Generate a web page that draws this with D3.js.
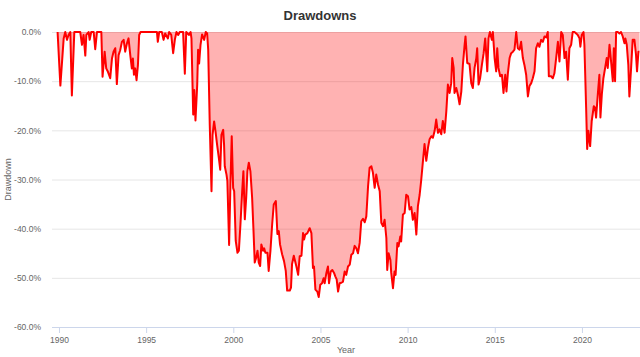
<!DOCTYPE html>
<html>
<head>
<meta charset="utf-8">
<script src="https://cdn.jsdelivr.net/npm/d3@7"></script>
<style>
  html, body { margin: 0; padding: 0; background: #fff; }
  svg { display: block; font-family: "Liberation Sans", Arial, sans-serif; }
</style>
</head>
<body>
<svg id="chart" width="640" height="357"></svg>
<script>
// ---- data (decimal year, drawdown in %) ----
const years = [
  1989.92,1990.08,1990.27,1990.36,1990.46,1990.55,1990.65,1990.74,1990.88,1991.22,
  1991.32,1991.41,1991.51,1991.57,1991.70,1991.76,1991.85,1991.99,1992.08,1992.18,
  1992.43,1992.50,1992.62,1992.71,1992.81,1992.94,1993.04,1993.13,1993.23,1993.32,
  1993.42,1993.51,1993.61,1993.71,1993.80,1993.90,1993.99,1994.09,1994.18,1994.24,
  1994.30,1994.37,1994.45,1994.53,1994.60,1994.68,1995.62,1995.67,1995.75,1995.90,
  1996.00,1996.09,1996.25,1996.32,1996.44,1996.55,1996.65,1996.74,1996.84,1996.93,
  1997.12,1997.22,1997.30,1997.45,1997.55,1997.60,1997.70,1997.76,1997.83,1997.93,
  1997.98,1998.04,1998.12,1998.21,1998.33,1998.42,1998.50,1998.56,1998.65,1998.75,
  1998.81,1998.90,1998.98,1999.07,1999.17,1999.25,1999.32,1999.42,1999.47,1999.51,
  1999.61,1999.66,1999.76,1999.84,1999.91,1999.99,2000.05,2000.14,2000.24,2000.32,
  2000.41,2000.51,2000.58,2000.66,2000.74,2000.81,2000.89,2000.98,2001.08,2001.16,
  2001.23,2001.31,2001.39,2001.46,2001.54,2001.61,2001.71,2001.77,2001.84,2001.96,
  2002.03,2002.13,2002.23,2002.32,2002.44,2002.53,2002.61,2002.68,2002.80,2002.91,
  2003.01,2003.09,2003.24,2003.31,2003.37,2003.47,2003.62,2003.72,2003.81,2003.91,
  2004.00,2004.06,2004.13,2004.25,2004.38,2004.48,2004.57,2004.63,2004.71,2004.82,
  2004.90,2004.99,2005.09,2005.18,2005.24,2005.34,2005.43,2005.49,2005.59,2005.68,
  2005.78,2005.85,2005.93,2006.01,2006.10,2006.20,2006.29,2006.39,2006.48,2006.58,
  2006.68,2006.77,2006.87,2006.96,2007.06,2007.15,2007.25,2007.34,2007.44,2007.54,
  2007.63,2007.73,2007.82,2007.92,2008.01,2008.11,2008.20,2008.30,2008.40,2008.49,
  2008.59,2008.68,2008.78,2008.83,2008.91,2009.01,2009.06,2009.16,2009.25,2009.31,
  2009.41,2009.48,2009.58,2009.63,2009.73,2009.83,2009.92,2010.02,2010.11,2010.21,
  2010.30,2010.40,2010.50,2010.59,2010.69,2010.78,2010.88,2010.97,2011.07,2011.17,
  2011.26,2011.36,2011.45,2011.55,2011.64,2011.74,2011.83,2011.93,2012.02,2012.12,
  2012.22,2012.31,2012.41,2012.50,2012.56,2012.64,2012.69,2012.79,2012.88,2012.98,
  2013.08,2013.17,2013.27,2013.32,2013.42,2013.55,2013.65,2013.74,2013.84,2013.94,
  2013.99,2014.07,2014.16,2014.26,2014.36,2014.45,2014.51,2014.57,2014.64,2014.72,
  2014.83,2014.89,2014.99,2015.08,2015.14,2015.21,2015.31,2015.41,2015.50,2015.60,
  2015.67,2015.75,2015.85,2015.94,2016.04,2016.13,2016.23,2016.32,2016.42,2016.51,
  2016.61,2016.70,2016.80,2016.90,2016.99,2017.09,2017.18,2017.28,2017.37,2017.47,
  2017.56,2017.66,2017.76,2017.85,2017.95,2018.04,2018.10,2018.23,2018.33,2018.42,
  2018.52,2018.62,2018.71,2018.81,2018.90,2019.00,2019.09,2019.19,2019.28,2019.38,
  2019.47,2019.57,2019.67,2019.76,2019.86,2019.91,2019.99,2020.09,2020.14,2020.24,
  2020.30,2020.37,2020.47,2020.56,2020.68,2020.75,2020.81,2020.91,2021.00,2021.06,
  2021.14,2021.23,2021.33,2021.42,2021.48,2021.58,2021.67,2021.77,2021.83,2021.90,
  2021.96,2022.05,2022.15,2022.24,2022.34,2022.44,2022.49,2022.57,2022.66,2022.72,
  2022.82,2022.91,2023.01,2023.10,2023.16,2023.24,2023.30
];
const drawdown = [
  0,-10.9,-1.3,0,-1.6,-0.6,0,-12.9,0,0,
  -2.6,-0.6,-4.8,-0.6,0,-1.6,0,0,-3.5,0,
  0,-9.1,-4.0,-7.4,-8.1,-9.4,-5.4,-4.0,-3.3,-10.6,
  -4.7,-3.7,-2.0,-1.6,-4.0,-2.3,-1.3,-4.7,-7.4,-5.4,
  -8.7,-7.4,-9.8,-6.7,-0.6,0,0,-2.0,0,0,
  -1.6,-0.3,-1.3,0,-0.6,-4.3,-1.5,0,-0.6,0,
  0,-8.5,0,-0.6,0,-1.3,-16.8,-11.8,-18.0,-10.7,
  -3.6,-6.4,-2.6,-0.5,-1.6,0,-0.3,-3.6,-18.9,-32.4,
  -20.9,-18.2,-20.2,-22.9,-25.6,-28.0,-20.9,-19.9,-22.9,-27.3,
  -29.0,-30.3,-43.3,-30.3,-21.2,-31.7,-32.4,-42.5,-44.9,-44.5,
  -39.1,-32.4,-28.3,-38.1,-33.7,-28.3,-26.6,-28.3,-33.7,-40.5,
  -46.9,-45.9,-44.5,-46.9,-47.6,-43.2,-44.5,-44.0,-44.9,-44.9,
  -48.6,-44.5,-39.1,-35.1,-34.4,-41.1,-40.5,-43.2,-45.2,-46.6,
  -48.6,-52.6,-52.6,-52.0,-47.2,-45.5,-47.7,-49.4,-45.6,-45.5,
  -40.9,-42.2,-41.2,-40.9,-39.9,-40.9,-48.0,-47.7,-52.4,-52.8,
  -53.9,-51.4,-51.1,-50.1,-51.1,-49.0,-47.7,-51.1,-48.7,-48.4,
  -49.0,-49.7,-50.3,-52.8,-51.1,-51.0,-50.8,-48.7,-49.4,-47.7,
  -47.3,-45.3,-45.0,-43.5,-44.0,-45.0,-42.9,-38.5,-38.0,-38.7,
  -37.5,-31.4,-27.6,-27.3,-28.6,-31.7,-29.0,-31.0,-32.4,-38.8,
  -39.5,-38.2,-41.9,-48.4,-45.0,-46.3,-49.0,-52.1,-48.7,-49.4,
  -42.9,-43.6,-41.6,-42.6,-37.1,-36.8,-33.1,-33.4,-36.1,-35.6,
  -38.2,-36.8,-41.2,-35.4,-33.1,-30.1,-26.2,-22.8,-26.2,-23.5,
  -21.8,-21.2,-21.5,-20.1,-17.8,-20.5,-19.8,-20.8,-18.1,-20.5,
  -16.1,-10.7,-12.4,-10.4,-5.3,-7.3,-12.4,-11.4,-12.7,-14.7,
  -12.1,-6.7,-2.6,-0.9,-6.3,-6.5,-10.4,-11.4,-7.3,-5.3,
  -3.3,-10.7,-9.4,-6.7,-4.3,-1.3,-4.6,-8.0,-1.3,0,
  -1.6,0,-5.3,-8.0,-3.3,-7.3,-9.0,-8.7,-12.4,-8.7,
  -12.1,-8.4,-5.3,-4.3,-4.0,-3.6,0,-3.3,-3.6,-2.0,
  -5.3,-6.7,-8.7,-13.1,-11.0,-10.4,-9.4,-8.0,-3.3,-2.3,
  -3.0,-1.6,-2.0,-0.9,-1.1,0,-9.0,-9.0,-9.4,-8.4,
  -5.3,-2.0,-6.0,0,-0.6,-5.3,-4.0,-9.7,-3.3,-2.6,
  0,0,-0.3,-0.6,-1.3,-3.0,-0.6,0,-2.6,-15.4,
  -23.8,-20.1,-23.2,-18.1,-15.1,-15.4,-17.4,-12.7,-8.7,-17.4,
  -12.7,-9.4,-7.3,-5.3,-7.3,-2.6,-6.0,-10.0,-3.3,-10.0,
  0,0,-0.3,0,-0.9,-2.3,-1.3,-2.6,-6.7,-13.1,
  -7.3,-1.6,-1.6,-4.6,-8.0,-4.0,-4.0
];
const yTicks = [0, -10, -20, -30, -40, -50, -60];
const xTicks = [1990, 1995, 2000, 2005, 2010, 2015, 2020];

const data = years.map((t, i) => ({ t, v: drawdown[i] }));

const svg = d3.select("#chart");
const W = 640, H = 357;
const m = { left: 52, right: 0, top: 32, bottom: 30 };
const plotW = W - m.left - m.right;
const plotH = 327 - m.top;

const x = d3.scaleLinear().domain([1989.6, 2023.33]).range([m.left, W - m.right]);
const y = d3.scaleLinear().domain([-60, 0]).range([327, m.top]);

// title
svg.append("text")
  .attr("x", 320).attr("y", 20)
  .attr("text-anchor", "middle")
  .attr("font-size", 13).attr("font-weight", "bold")
  .attr("fill", "#333333")
  .text("Drawdowns");

// y grid + labels
const yAxis = svg.append("g")
  .attr("transform", `translate(${m.left},0)`)
  .call(d3.axisLeft(y).tickValues(yTicks).tickSize(-plotW).tickPadding(11)
    .tickFormat(d => d.toFixed(1) + "%"));
yAxis.select(".domain").remove();
yAxis.selectAll(".tick line").attr("stroke", "#e6e6e6");
yAxis.selectAll(".tick text").attr("fill", "#666666").attr("font-size", 8.5)
  .attr("font-family", "Liberation Sans, Arial, sans-serif");

// area + line
svg.append("path")
  .datum(data)
  .attr("fill", "rgba(255,0,0,0.3)")
  .attr("d", d3.area().x(d => x(d.t)).y0(y(0)).y1(d => y(d.v)));
svg.append("path")
  .datum(data)
  .attr("fill", "none")
  .attr("stroke", "#ff0000")
  .attr("stroke-width", 2)
  .attr("stroke-linejoin", "round")
  .attr("d", d3.line().x(d => x(d.t)).y(d => y(d.v)));

// x axis
const xAxis = svg.append("g")
  .attr("transform", `translate(0,327)`)
  .call(d3.axisBottom(x).tickValues(xTicks).tickSize(6).tickPadding(4)
    .tickFormat(d3.format("d")));
xAxis.select(".domain").attr("stroke", "#ccd6eb").attr("d", `M${m.left},0.5H${W}`);
xAxis.selectAll(".tick line").attr("stroke", "#ccd6eb");
xAxis.selectAll(".tick text").attr("fill", "#666666").attr("font-size", 8.5)
  .attr("font-family", "Liberation Sans, Arial, sans-serif");

// axis titles
svg.append("text")
  .attr("x", (m.left + W) / 2).attr("y", 353)
  .attr("text-anchor", "middle")
  .attr("font-size", 9).attr("fill", "#666666")
  .text("Year");
svg.append("text")
  .attr("transform", `translate(11,${(m.top + 327) / 2}) rotate(-90)`)
  .attr("text-anchor", "middle")
  .attr("font-size", 9).attr("fill", "#666666")
  .text("Drawdown");
</script>
</body>
</html>
